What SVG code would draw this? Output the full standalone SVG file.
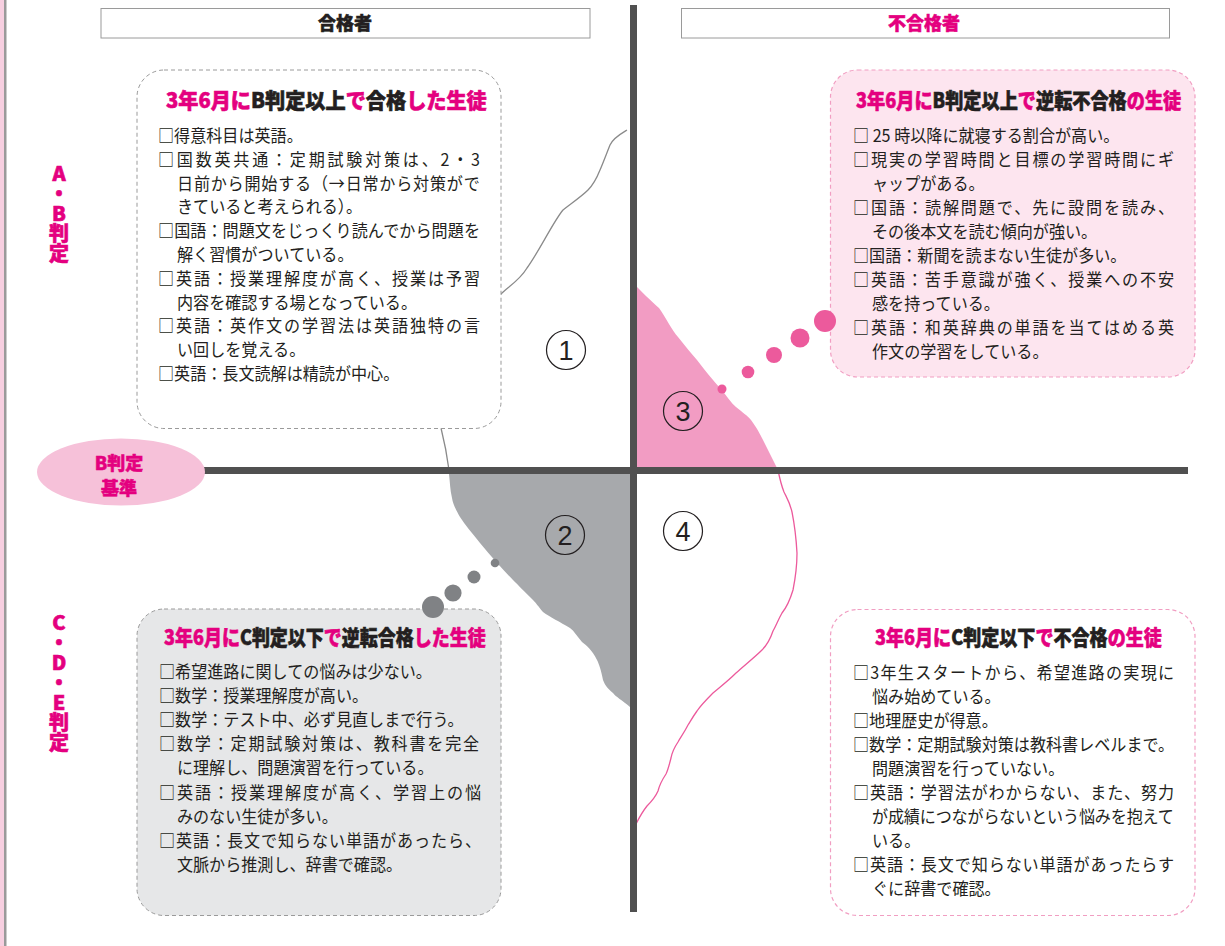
<svg xmlns="http://www.w3.org/2000/svg" width="1225" height="946" viewBox="0 0 1225 946">
<style>
text{font-family:"Noto Sans CJK JP","Noto Sans CJK SC",sans-serif;}
.body{font-size:17.5px;fill:#231f20;}
.title{font-size:21px;font-weight:900;fill:#231f20;stroke:#231f20;stroke-width:0.6;}
.pk{fill:#e4007f;stroke:#e4007f;}
.side{font-size:20px;font-weight:900;fill:#e4007f;stroke:#e4007f;stroke-width:0.6;writing-mode:vertical-rl;text-orientation:upright;}
.ell{font-size:18px;font-weight:900;fill:#e4007f;stroke:#e4007f;stroke-width:0.5;text-anchor:middle;}
.hdr{fill:#fff;stroke:#9a9a9a;stroke-width:1;}
.hdrt{font-size:18px;font-weight:900;text-anchor:middle;stroke-width:0.5;}
.num{font-family:"Liberation Sans",Arial,sans-serif;font-size:27px;fill:#231f20;text-anchor:middle;}
.ncirc{fill:none;stroke:#231f20;stroke-width:1.2;}
.boxg{stroke:#9a9a9a;stroke-width:1;stroke-dasharray:4 3;}
.boxp{stroke:#f19ec2;stroke-width:1.2;stroke-dasharray:4 3;}
.axis{fill:#505050;}
.pdot{fill:#ec5a9c;}
.gdot{fill:#808285;}
</style>

<g id="page-edge">
<rect x="0" y="0" width="4" height="946" fill="#f7cfe0"/>
<rect x="4" y="0" width="2.5" height="946" fill="#9a9a9a"/>
</g>

<g id="regions">
<path d="M449,470 L633,470 L633,708 L630,707 C622,700 616,697 613,693 C607,688 605,685 603,680 C601,670 599,664 597,660 C592,650 587,646 582,642 C577,636 574,631 570,628 C560,622 550,617 543,612 C538,606 536,603 533,600 C525,592 518,585 513,580 C507,574 502,568 497,563 C490,555 485,549 480,543 C472,533 465,525 460,517 C455,508 453,504 452,498 C450,490 450,482 449,474 Z" fill="#a7a9ac"/>
<path d="M633,283 C640,290 652,302 659,308 C666,318 672,330 678,337 C685,346 692,354 697,360 C706,372 713,380 720,388 C727,396 731,403 736,407 C743,413 747,415 751,420 C757,428 760,434 763,440 C768,450 773,460 778,470 L633,470 Z" fill="#f29cc3"/>
<path d="M627,130 C622,133 613,138 610,145 C606,155 603,163 600,170 C596,180 593,185 588,190 C582,196 572,203 563,210 C553,222 540,250 527,268 C520,280 508,287 501,294 L470,340 L441,428 C444,440 447,455 449,470" fill="none" stroke="#8a8a8a" stroke-width="1.3"/>
<path d="M778,470 C780,480 782,487 784,492 C788,500 790,503 792,512 C794,522 796,535 797,553 C797,568 795,580 793,590 C790,600 786,608 782,613 C778,620 776,626 773,631 C770,640 766,646 762,650 C756,656 745,665 736,673 C728,681 720,687 713,693 C706,700 701,705 697,711 C692,718 690,722 688,725 C684,733 680,738 678,742 C674,748 672,752 671,758 C669,766 668,770 666,774 C662,780 660,783 658,791 C655,798 650,803 647,806 C643,811 639,818 636,824 C635,826 634,828 633,830" fill="none" stroke="#ec5a9c" stroke-width="1.3"/>
</g>

<g id="axes">
<rect class="axis" x="630" y="5" width="7" height="907"/>
<rect class="axis" x="204" y="467" width="984" height="7"/>
</g>

<g id="header-pass">
<rect class="hdr" x="101" y="8.5" width="489" height="29.5"/>
<text class="hdrt" x="345" y="30" fill="#231f20" stroke="#231f20">合格者</text>
</g>
<g id="header-fail">
<rect class="hdr" x="681.5" y="8.5" width="488" height="29.5"/>
<text class="hdrt" x="924" y="30" fill="#e4007f" stroke="#e4007f">不合格者</text>
</g>

<g id="label-ab">
<text class="side" x="59" y="163">A・B判定</text>
</g>
<g id="label-cde">
<text class="side" x="59" y="612">C・D・E判定</text>
</g>

<g id="b-criterion">
<ellipse cx="121" cy="472" rx="84" ry="33.5" fill="#f6c1d9"/>
<text class="ell" x="119" y="470">B判定</text>
<text class="ell" x="119" y="495">基準</text>
</g>

<g id="box-q1">
<rect class="boxg" x="137" y="70" width="364" height="358.5" rx="27" fill="#fff"/>
<text class="title" transform="translate(166,108) scale(0.96,1)"><tspan class="pk">3年6月に</tspan><tspan>B判定以上</tspan><tspan class="pk">で</tspan><tspan>合格</tspan><tspan class="pk">した生徒</tspan></text>
<g transform="matrix(0.92,0,0,1,158,0)">
<text class="body" x="0" y="142">□得意科目は英語。</text>
<text class="body" x="0" y="166" textLength="350">□国数英共通：定期試験対策は、2・3</text>
<text class="body" x="20.7" y="190" textLength="329">日前から開始する（→日常から対策がで</text>
<text class="body" x="20.7" y="213">きていると考えられる）。</text>
<text class="body" x="0" y="237" textLength="350">□国語：問題文をじっくり読んでから問題を</text>
<text class="body" x="20.7" y="261">解く習慣がついている。</text>
<text class="body" x="0" y="285" textLength="350">□英語：授業理解度が高く、授業は予習</text>
<text class="body" x="20.7" y="309">内容を確認する場となっている。</text>
<text class="body" x="0" y="332" textLength="350">□英語：英作文の学習法は英語独特の言</text>
<text class="body" x="20.7" y="356">い回しを覚える。</text>
<text class="body" x="0" y="380">□英語：長文読解は精読が中心。</text>
</g>
</g>

<g id="box-q3">
<rect class="boxp" x="830.5" y="70" width="364.5" height="307" rx="27" fill="#fde5ef"/>
<text class="title" transform="translate(856,108) scale(0.865,1)"><tspan class="pk">3年6月に</tspan><tspan>B判定以上</tspan><tspan class="pk">で</tspan><tspan>逆転不合格</tspan><tspan class="pk">の生徒</tspan></text>
<g transform="matrix(0.92,0,0,1,853,0)">
<text class="body" x="0" y="142">□ 25 時以降に就寝する割合が高い。</text>
<text class="body" x="0" y="166" textLength="349">□現実の学習時間と目標の学習時間にギ</text>
<text class="body" x="20.7" y="190">ャップがある。</text>
<text class="body" x="0" y="214" textLength="349">□国語：読解問題で、先に設問を読み、</text>
<text class="body" x="20.7" y="238">その後本文を読む傾向が強い。</text>
<text class="body" x="0" y="262">□国語：新聞を読まない生徒が多い。</text>
<text class="body" x="0" y="286" textLength="349">□英語：苦手意識が強く、授業への不安</text>
<text class="body" x="20.7" y="310">感を持っている。</text>
<text class="body" x="0" y="334" textLength="349">□英語：和英辞典の単語を当てはめる英</text>
<text class="body" x="20.7" y="358">作文の学習をしている。</text>
</g>
</g>

<g id="box-q2">
<rect class="boxg" x="137" y="609" width="364" height="306.5" rx="27" fill="#e6e7e8"/>
<text class="title" transform="translate(164,645) scale(0.857,1)"><tspan class="pk">3年6月に</tspan><tspan>C判定以下</tspan><tspan class="pk">で</tspan><tspan>逆転合格</tspan><tspan class="pk">した生徒</tspan></text>
<g transform="matrix(0.92,0,0,1,159,0)">
<text class="body" x="0" y="678">□希望進路に関しての悩みは少ない。</text>
<text class="body" x="0" y="702">□数学：授業理解度が高い。</text>
<text class="body" x="0" y="726">□数学：テスト中、必ず見直しまで行う。</text>
<text class="body" x="0" y="750" textLength="348">□数学：定期試験対策は、教科書を完全</text>
<text class="body" x="19.5" y="774">に理解し、問題演習を行っている。</text>
<text class="body" x="0" y="799" textLength="350">□英語：授業理解度が高く、学習上の悩</text>
<text class="body" x="19.5" y="823">みのない生徒が多い。</text>
<text class="body" x="0" y="847" textLength="350">□英語：長文で知らない単語があったら、</text>
<text class="body" x="19.5" y="871">文脈から推測し、辞書で確認。</text>
</g>
</g>

<g id="box-q4">
<rect class="boxp" x="830.5" y="609.5" width="364.5" height="306" rx="27" fill="#fff"/>
<text class="title" transform="translate(875,645) scale(0.86,1)"><tspan class="pk">3年6月に</tspan><tspan>C判定以下</tspan><tspan class="pk">で</tspan><tspan>不合格</tspan><tspan class="pk">の生徒</tspan></text>
<g transform="matrix(0.92,0,0,1,853,0)">
<text class="body" x="0" y="679" textLength="349">□3年生スタートから、希望進路の実現に</text>
<text class="body" x="20.7" y="703">悩み始めている。</text>
<text class="body" x="0" y="727">□地理歴史が得意。</text>
<text class="body" x="0" y="751" textLength="349">□数学：定期試験対策は教科書レベルまで。</text>
<text class="body" x="20.7" y="775">問題演習を行っていない。</text>
<text class="body" x="0" y="799" textLength="349">□英語：学習法がわからない、また、努力</text>
<text class="body" x="20.7" y="823" textLength="328">が成績につながらないという悩みを抱えて</text>
<text class="body" x="20.7" y="847">いる。</text>
<text class="body" x="0" y="871" textLength="349">□英語：長文で知らない単語があったらす</text>
<text class="body" x="20.7" y="895">ぐに辞書で確認。</text>
</g>
</g>

<g id="connectors">
<circle class="pdot" cx="722" cy="389" r="4.5"/>
<circle class="pdot" cx="748" cy="372" r="6.3"/>
<circle class="pdot" cx="774" cy="355" r="8"/>
<circle class="pdot" cx="800" cy="338" r="9.5"/>
<circle class="pdot" cx="825" cy="321" r="11"/>
<circle class="gdot" cx="495" cy="563" r="4.3"/>
<circle class="gdot" cx="474" cy="577" r="6.5"/>
<circle class="gdot" cx="453" cy="593" r="8.6"/>
<circle class="gdot" cx="433" cy="607" r="11"/>
</g>

<g id="num-1"><circle class="ncirc" cx="566" cy="350" r="19.5"/><text class="num" x="566" y="360">1</text></g>
<g id="num-2"><circle class="ncirc" cx="565" cy="535" r="19.5"/><text class="num" x="565" y="545">2</text></g>
<g id="num-3"><circle class="ncirc" cx="683" cy="411" r="19.5"/><text class="num" x="683" y="421">3</text></g>
<g id="num-4"><circle class="ncirc" cx="683" cy="531" r="19.5"/><text class="num" x="683" y="541">4</text></g>
</svg>
